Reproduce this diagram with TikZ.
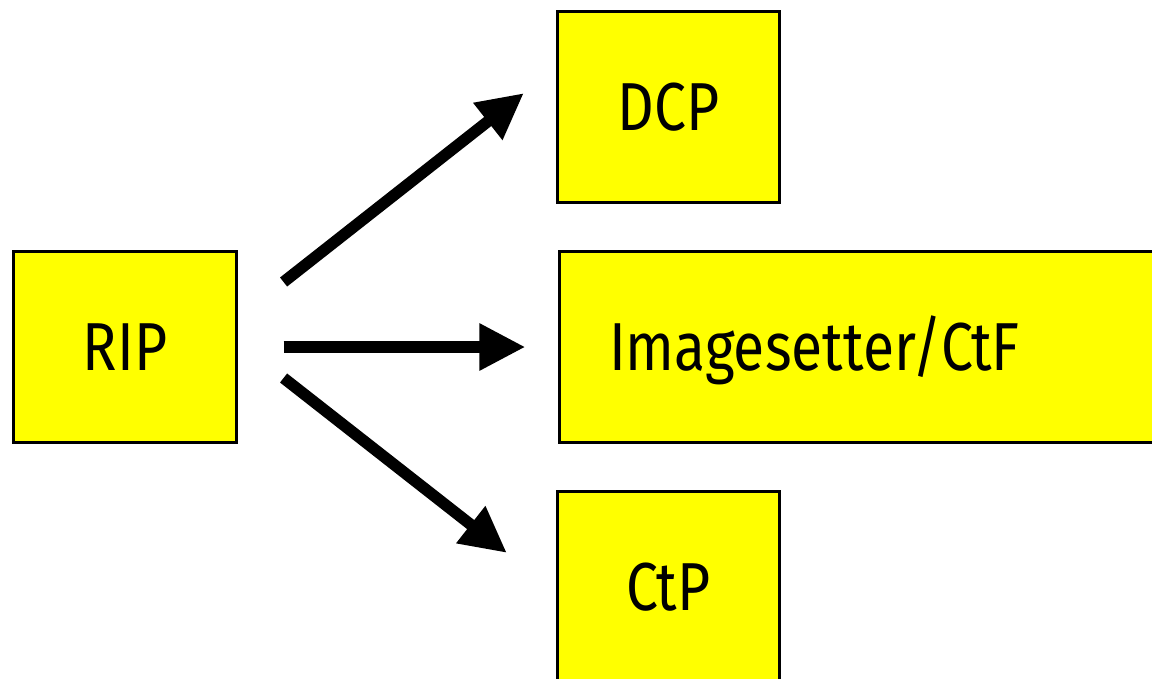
\documentclass[tikz,border=0pt]{standalone}
\usepackage{fontspec}
\setmainfont[FakeStretch=0.84]{Fira Sans}
\usetikzlibrary{arrows.meta}

\definecolor{boxyellow}{RGB}{255,255,0}

\tikzset{
  block/.style={draw=black, fill=boxyellow, line width=0.03cm, inner sep=0pt,
    minimum width=2.22cm, minimum height=1.91cm,
    font=\fontsize{19.3}{22}\selectfont, text height=13.3pt, text depth=0pt},
  flow/.style={line width=0.115cm, -{Triangle[length=0.46cm, width=0.44cm]}}
}

\begin{document}
\begin{tikzpicture}[x=0.01cm, y=-0.01cm]

  \useasboundingbox (0,0) rectangle (1152,678);
  \clip (0,0) rectangle (1152,678);

  % the raster image processor and the three outputs
  \node[block] (rip) at (125,347) {RIP};
  \node[block] (dcp) at (668.5,107) {DCP};
  \node[block, anchor=west, align=left, text width=5.5cm, inner xsep=0.5cm]
    (ctf) at (557.5,347) {Imagesetter/CtF};
  \node[block] (ctp) at (668.5,587) {CtP};

  % arrows out of the RIP
  \draw[flow] ([shift={(46,-65)}]rip.east) -- ([shift={(-32,-111)}]dcp.south west);
  \draw[flow] ([shift={(46,0)}]rip.east) -- ([shift={(-32,0)}]ctf.west);
  \draw[flow] ([shift={(46,31)}]rip.east) -- ([shift={(-49,63)}]ctp.north west);

\end{tikzpicture}
\end{document}
